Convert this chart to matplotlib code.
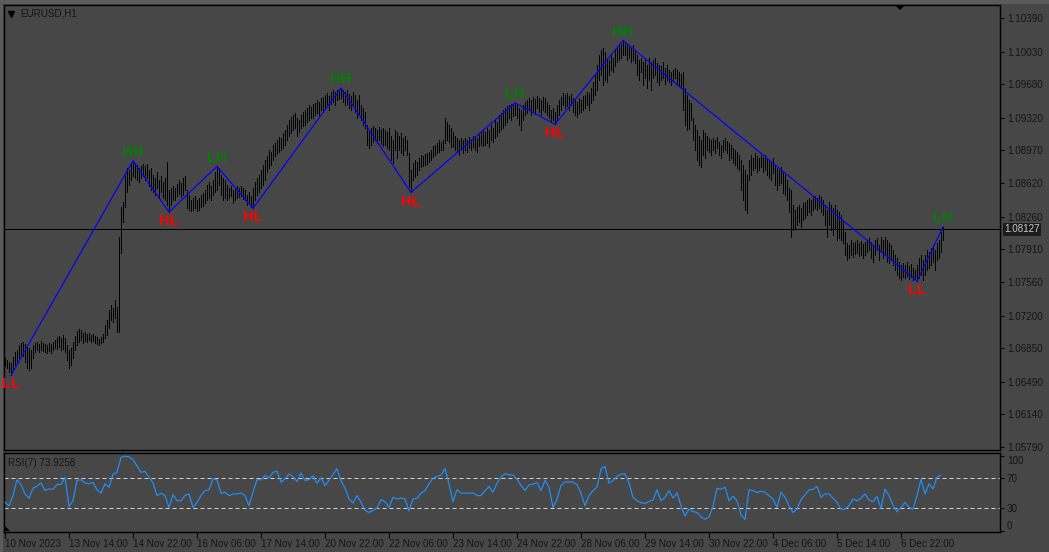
import numpy as np
import pandas as pd
import matplotlib
matplotlib.use("Agg")
import matplotlib.pyplot as plt
from matplotlib.lines import Line2D
from matplotlib.patches import Polygon, Rectangle
import matplotlib.transforms as mtransforms

# ---------------- data ----------------
symbol = "EURUSD,H1"
first_bar = "2023-11-10 06:00"

high = [
    1.0674,1.0672,1.0670,1.0669,1.0676,1.0681,1.0683,1.0688,1.0691,1.0692,
    1.0689,1.0686,1.0685,1.0683,1.0688,1.0691,1.0692,1.0689,1.0693,1.0691,
    1.0689,1.0688,1.0691,1.0689,1.0692,1.0694,1.0697,1.0698,1.0696,1.0699,
    1.0696,1.0688,1.0683,1.0685,1.0692,1.0698,1.0703,1.0706,1.0704,1.0701,
    1.0702,1.0700,1.0701,1.0699,1.0700,1.0698,1.0697,1.0695,1.0697,1.0700,
    1.0710,1.0715,1.0726,1.0731,1.0728,1.0737,1.0729,1.0804,1.0836,1.0842,
    1.0873,1.0878,1.0876,1.0882,1.0886,1.0884,1.0881,1.0878,1.0880,1.0882,
    1.0880,1.0882,1.0876,1.0878,1.0871,1.0867,1.0874,1.0865,1.0870,1.0863,
    1.0867,1.0885,1.0855,1.0857,1.0859,1.0857,1.0861,1.0865,1.0862,1.0867,
    1.0870,1.0855,1.0849,1.0844,1.0846,1.0848,1.0844,1.0846,1.0849,1.0851,
    1.0855,1.0860,1.0863,1.0859,1.0865,1.0874,1.0880,1.0878,1.0871,1.0867,
    1.0865,1.0860,1.0857,1.0859,1.0855,1.0857,1.0859,1.0857,1.0859,1.0857,
    1.0855,1.0849,1.0852,1.0848,1.0857,1.0863,1.0867,1.0871,1.0876,1.0881,
    1.0887,1.0891,1.0897,1.0895,1.0903,1.0905,1.0908,1.0911,1.0910,1.0916,
    1.0919,1.0924,1.0930,1.0933,1.0935,1.0937,1.0932,1.0930,1.0935,1.0938,
    1.0940,1.0943,1.0946,1.0944,1.0947,1.0948,1.0951,1.0949,1.0953,1.0954,
    1.0956,1.0959,1.0955,1.0960,1.0962,1.0960,1.0962,1.0963,1.0964,1.0962,
    1.0960,1.0962,1.0958,1.0955,1.0960,1.0956,1.0951,1.0956,1.0946,1.0943,
    1.0938,1.0924,1.0919,1.0921,1.0923,1.0921,1.0919,1.0922,1.0920,1.0921,
    1.0919,1.0917,1.0921,1.0913,1.0908,1.0919,1.0917,1.0913,1.0916,1.0910,
    1.0913,1.0908,1.0894,1.0876,1.0884,1.0887,1.0885,1.0889,1.0892,1.0891,
    1.0893,1.0894,1.0895,1.0897,1.0902,1.0903,1.0905,1.0908,1.0906,1.0908,
    1.0932,1.0927,1.0924,1.0921,1.0917,1.0913,1.0910,1.0908,1.0910,1.0908,
    1.0910,1.0908,1.0911,1.0909,1.0913,1.0912,1.0910,1.0915,1.0917,1.0919,
    1.0917,1.0921,1.0919,1.0924,1.0921,1.0930,1.0927,1.0935,1.0937,1.0940,
    1.0943,1.0945,1.0946,1.0947,1.0947,1.0948,1.0946,1.0943,1.0940,1.0946,
    1.0949,1.0951,1.0953,1.0951,1.0954,1.0952,1.0955,1.0953,1.0951,1.0954,
    1.0953,1.0949,1.0946,1.0940,1.0943,1.0938,1.0946,1.0951,1.0954,1.0959,
    1.0956,1.0959,1.0955,1.0958,1.0953,1.0951,1.0949,1.0953,1.0951,1.0955,
    1.0956,1.0960,1.0959,1.0964,1.0970,1.0978,1.0989,1.0999,1.1005,1.1007,
    1.1003,1.0996,1.0994,1.0999,1.0996,1.1005,1.1007,1.1010,1.1011,1.1015,
    1.1013,1.1010,1.1008,1.1007,1.1010,1.1005,1.0999,1.0994,1.0996,1.0992,
    1.0994,1.0989,1.0996,1.0992,1.0994,1.0996,1.0991,1.0989,1.0988,1.0992,
    1.0985,1.0989,1.0983,1.0981,1.0983,1.0985,1.0983,1.0981,1.0979,1.0981,
    1.0964,1.0956,1.0951,1.0948,1.0932,1.0924,1.0919,1.0913,1.0908,1.0919,
    1.0916,1.0913,1.0910,1.0908,1.0910,1.0908,1.0911,1.0906,1.0903,1.0908,
    1.0910,1.0907,1.0905,1.0903,1.0900,1.0897,1.0895,1.0892,1.0887,1.0881,
    1.0876,1.0871,1.0887,1.0892,1.0889,1.0894,1.0891,1.0889,1.0892,1.0890,
    1.0892,1.0889,1.0887,1.0885,1.0889,1.0881,1.0878,1.0876,1.0879,1.0874,
    1.0871,1.0865,1.0857,1.0855,1.0838,1.0833,1.0836,1.0838,1.0835,1.0841,
    1.0842,1.0844,1.0846,1.0844,1.0847,1.0848,1.0846,1.0849,1.0847,1.0844,
    1.0838,1.0833,1.0842,1.0838,1.0835,1.0838,1.0833,1.0831,1.0828,1.0822,
    1.0810,1.0798,1.0796,1.0801,1.0798,1.0799,1.0801,1.0798,1.0800,1.0797,
    1.0799,1.0801,1.0803,1.0799,1.0796,1.0801,1.0803,1.0796,1.0804,1.0801,
    1.0804,1.0801,1.0798,1.0796,1.0790,1.0785,1.0782,1.0777,1.0774,1.0776,
    1.0774,1.0777,1.0773,1.0775,1.0771,1.0769,1.0774,1.0782,1.0785,1.0780,
    1.0785,1.0790,1.0788,1.0792,1.0796,1.0790,1.0798,1.0801,1.0810,1.0815,
]

low = [
    1.0666,1.0664,1.0660,1.0656,1.0662,1.0667,1.0670,1.0674,1.0678,1.0677,
    1.0670,1.0664,1.0662,1.0664,1.0674,1.0681,1.0683,1.0681,1.0683,1.0682,
    1.0681,1.0680,1.0682,1.0680,1.0683,1.0685,1.0684,1.0686,1.0683,1.0684,
    1.0681,1.0672,1.0664,1.0667,1.0674,1.0683,1.0688,1.0692,1.0694,1.0691,
    1.0693,1.0692,1.0694,1.0692,1.0693,1.0691,1.0689,1.0688,1.0691,1.0692,
    1.0696,1.0699,1.0707,1.0715,1.0713,1.0717,1.0702,1.0702,1.0787,1.0820,
    1.0836,1.0852,1.0860,1.0865,1.0870,1.0867,1.0865,1.0863,1.0867,1.0870,
    1.0865,1.0867,1.0859,1.0855,1.0852,1.0849,1.0857,1.0847,1.0852,1.0846,
    1.0844,1.0838,1.0831,1.0838,1.0844,1.0844,1.0848,1.0850,1.0847,1.0849,
    1.0855,1.0835,1.0833,1.0832,1.0833,1.0835,1.0832,1.0833,1.0836,1.0837,
    1.0841,1.0844,1.0846,1.0844,1.0849,1.0852,1.0855,1.0860,1.0849,1.0844,
    1.0846,1.0844,1.0846,1.0848,1.0841,1.0844,1.0846,1.0847,1.0848,1.0845,
    1.0844,1.0838,1.0842,1.0836,1.0835,1.0844,1.0849,1.0852,1.0857,1.0860,
    1.0865,1.0874,1.0878,1.0881,1.0887,1.0891,1.0893,1.0895,1.0897,1.0900,
    1.0903,1.0908,1.0913,1.0916,1.0919,1.0921,1.0913,1.0917,1.0921,1.0923,
    1.0924,1.0927,1.0930,1.0932,1.0932,1.0935,1.0937,1.0934,1.0940,1.0938,
    1.0943,1.0945,1.0940,1.0947,1.0949,1.0946,1.0951,1.0952,1.0953,1.0949,
    1.0946,1.0947,1.0943,1.0940,1.0945,1.0938,1.0932,1.0935,1.0930,1.0924,
    1.0921,1.0903,1.0900,1.0903,1.0906,1.0908,1.0905,1.0908,1.0904,1.0902,
    1.0903,1.0900,1.0897,1.0887,1.0884,1.0897,1.0889,1.0897,1.0894,1.0892,
    1.0897,1.0892,1.0858,1.0852,1.0865,1.0868,1.0871,1.0876,1.0879,1.0880,
    1.0881,1.0882,1.0885,1.0887,1.0890,1.0892,1.0894,1.0895,1.0897,1.0897,
    1.0905,1.0908,1.0906,1.0901,1.0901,1.0897,1.0895,1.0892,1.0897,1.0894,
    1.0897,1.0895,1.0900,1.0897,1.0901,1.0898,1.0895,1.0902,1.0903,1.0902,
    1.0903,1.0905,1.0901,1.0908,1.0906,1.0910,1.0913,1.0917,1.0919,1.0921,
    1.0924,1.0927,1.0932,1.0930,1.0934,1.0935,1.0932,1.0924,1.0919,1.0930,
    1.0935,1.0937,1.0940,1.0935,1.0938,1.0936,1.0943,1.0938,1.0935,1.0940,
    1.0938,1.0935,1.0932,1.0927,1.0930,1.0925,1.0930,1.0935,1.0940,1.0946,
    1.0943,1.0945,1.0940,1.0946,1.0938,1.0935,1.0933,1.0937,1.0938,1.0940,
    1.0943,1.0946,1.0940,1.0948,1.0951,1.0956,1.0962,1.0973,1.0978,1.0967,
    1.0973,1.0970,1.0978,1.0983,1.0981,1.0988,1.0992,1.0994,1.0996,1.0999,
    1.0999,1.0994,1.0996,1.0992,1.0994,1.0991,1.0978,1.0973,1.0981,1.0967,
    1.0975,1.0964,1.0973,1.0962,1.0975,1.0978,1.0970,1.0967,1.0973,1.0975,
    1.0968,1.0973,1.0970,1.0967,1.0973,1.0975,1.0967,1.0966,1.0964,1.0940,
    1.0924,1.0919,1.0920,1.0930,1.0908,1.0897,1.0887,1.0881,1.0879,1.0892,
    1.0889,1.0897,1.0895,1.0892,1.0897,1.0894,1.0900,1.0892,1.0889,1.0895,
    1.0897,1.0894,1.0887,1.0889,1.0884,1.0881,1.0878,1.0876,1.0855,1.0844,
    1.0833,1.0830,1.0865,1.0871,1.0876,1.0878,1.0874,1.0876,1.0879,1.0874,
    1.0876,1.0871,1.0867,1.0865,1.0873,1.0860,1.0855,1.0860,1.0862,1.0851,
    1.0849,1.0844,1.0831,1.0804,1.0812,1.0814,1.0817,1.0820,1.0815,1.0822,
    1.0825,1.0828,1.0831,1.0828,1.0833,1.0835,1.0833,1.0835,1.0831,1.0828,
    1.0817,1.0804,1.0817,1.0812,1.0806,1.0814,1.0801,1.0803,1.0801,1.0798,
    1.0785,1.0780,1.0782,1.0785,1.0783,1.0786,1.0787,1.0784,1.0785,1.0782,
    1.0785,1.0788,1.0790,1.0782,1.0777,1.0785,1.0790,1.0780,1.0788,1.0782,
    1.0785,1.0777,1.0776,1.0780,1.0774,1.0769,1.0764,1.0760,1.0758,1.0761,
    1.0760,1.0762,1.0759,1.0761,1.0758,1.0759,1.0757,1.0760,1.0764,1.0758,
    1.0764,1.0769,1.0771,1.0774,1.0777,1.0769,1.0780,1.0782,1.0788,1.0801,
]

last_close = 1.08127

# zigzag pivots (bar index) and their labels
pivot_idx = [3, 64, 82, 106, 124, 168, 203, 255, 275, 309, 456, 469]
pivot_lbl = ["LL", "HH", "HL", "LH", "HL", "HH", "HL", "LH", "HL", "HH", "LL", "LH"]

# RSI(7), one value every second bar
rsi_period = 7
rsi = [
    37.7, 33.2, 46.7, 67.8, 61.5, 48.9, 43.1, 56.5, 59.2, 63.7,
    53.4, 55.6, 55.2, 61.5, 61.5, 71.3, 32.3, 39.9, 66.9, 67.8,
    63.3, 62.4, 64.2, 54.7, 50.2, 62.4, 57.9, 74.9, 78.1, 97.4,
    99.2, 98.3, 94.7, 86.2, 77.6, 79.0, 71.3, 63.7, 46.7, 49.8,
    46.7, 30.9, 47.8, 39.9, 39.9, 46.7, 48.9, 30.9, 37.7, 46.7,
    53.4, 54.3, 69.1, 67.8, 49.8, 51.1, 46.7, 48.9, 48.9, 50.2,
    46.7, 33.2, 51.1, 67.8, 67.8, 73.6, 70.4, 77.6, 79.4, 64.6,
    69.1, 75.4, 71.8, 65.5, 76.7, 66.9, 67.8, 73.1, 63.3, 70.4,
    60.1, 66.9, 74.9, 82.6, 66.0, 57.0, 42.2, 36.8, 46.7, 37.7,
    27.3, 24.2, 26.9, 30.0, 41.3, 38.6, 30.9, 44.4, 42.2, 43.5,
    42.2, 26.4, 42.2, 43.1, 49.8, 53.4, 62.4, 69.6, 72.2, 74.0,
    82.6, 62.4, 38.6, 54.7, 49.8, 50.2, 49.8, 50.2, 46.7, 46.7,
    53.4, 58.8, 51.1, 63.3, 71.3, 75.8, 74.5, 74.0, 68.7, 60.1,
    53.4, 61.0, 61.9, 64.2, 53.4, 66.9, 57.9, 30.9, 41.7, 60.1,
    64.6, 65.1, 64.6, 61.5, 49.8, 33.2, 46.7, 53.4, 57.9, 82.1,
    85.7, 63.3, 66.9, 72.2, 74.9, 75.8, 63.7, 44.4, 39.9, 37.2,
    36.3, 39.0, 40.8, 54.3, 39.9, 44.4, 53.4, 43.5, 50.2, 33.2,
    19.7, 28.7, 25.5, 24.2, 18.4, 15.2, 18.4, 31.8, 56.5, 55.2,
    57.9, 39.9, 45.8, 39.9, 21.1, 15.2, 54.3, 53.4, 50.7, 52.5,
    51.1, 46.7, 42.2, 30.9, 51.1, 44.4, 33.2, 24.2, 28.7, 41.3,
    47.8, 54.3, 55.2, 58.8, 44.4, 48.9, 48.9, 43.5, 37.7, 28.7,
    28.7, 33.2, 42.2, 39.9, 43.1, 48.9, 40.8, 38.6, 45.8, 29.6,
    55.6, 46.7, 34.1, 25.1, 30.9, 37.7, 30.9, 28.7, 46.7, 68.2,
    48.9, 62.4, 55.6, 71.3, 73.9258,
]
rsi_levels = [70, 30]
rsi_scale_labels = [100, 70, 30, 0]

price_ticks = [1.10390, 1.10030, 1.09680, 1.09320, 1.08970, 1.08620, 1.08260,
               1.07910, 1.07560, 1.07200, 1.06850, 1.06490, 1.06140, 1.05790]
date_tick_idx = [0, 32, 64, 96, 128, 160, 192, 224, 256, 288, 320, 352, 384, 416, 448]

# ---------------- style ----------------
plt.rcParams["font.family"] = ["Liberation Sans", "DejaVu Sans"]
BG = "#474747"
TXT = "#141414"
FS = 7.1
PX = 0.72  # one pixel in points
W, H = 1049, 552

def rect(l, t, r, b):
    return [l / W, 1 - b / H, (r - l) / W, (b - t) / H]

fig = plt.figure(figsize=(W / 100, H / 100), dpi=100)
fig.patch.set_facecolor(BG)

# light frame strips (terminal window border)
fig.add_artist(Rectangle((0, 1 - 4 / H), 1, 4 / H, transform=fig.transFigure,
                         facecolor="#5b5b5b", edgecolor="none", zorder=0))
fig.add_artist(Rectangle((0, 0), 3 / W, 1, transform=fig.transFigure,
                         facecolor="#5b5b5b", edgecolor="none", zorder=0))

ax = fig.add_axes(rect(4, 5, 1000, 450))
ax2 = fig.add_axes(rect(4, 452.8, 1000, 531.8), sharex=ax)

n = min(len(high), len(low))
x = np.arange(n)
hi = np.array(high[:n])
lo = np.array(low[:n])

for a in (ax, ax2):
    a.set_facecolor(BG)
    for s in a.spines.values():
        s.set_color("black")
        s.set_linewidth(1.0)

# price bars (1 px wide)
ax.vlines(x, lo, hi, colors="black", linewidth=PX, antialiased=False, zorder=2)

# last price line
ax.axhline(last_close, color="black", linewidth=PX, antialiased=False, zorder=1)

# zigzag
pv_y = [hi[i] if lbl.endswith("H") else lo[i] for i, lbl in zip(pivot_idx, pivot_lbl)]
ax.plot(pivot_idx, pv_y, color="#0000ff", linewidth=0.85, zorder=3)
for i, lbl, yv in zip(pivot_idx, pivot_lbl, pv_y):
    if lbl.endswith("H"):
        ax.annotate(lbl, (i, yv), xytext=(0, 3.2), textcoords="offset points",
                    ha="center", va="baseline", color="#008000", fontsize=10.5,
                    fontweight="bold", zorder=4)
    else:
        ax.annotate(lbl, (i, yv), xytext=(0, -1.5), textcoords="offset points",
                    ha="center", va="top", color="#ff0000", fontsize=10.5,
                    fontweight="bold", zorder=4)

ax.set_xlim(-0.5, 497.5)
ax.set_ylim(1.05759, 1.10529)
ax.yaxis.tick_right()
ax.set_yticks(price_ticks)
ax.set_yticklabels([f"{v:.5f}" for v in price_ticks])
ax.tick_params(axis="y", direction="out", length=3, width=0.8, colors="black",
               labelcolor=TXT, labelsize=FS, pad=2)
ax.tick_params(axis="x", bottom=False, labelbottom=False)

# last price box
tr = mtransforms.blended_transform_factory(ax.transAxes, ax.transData)
ax.text(1.004, last_close, f"{last_close:.5f}", transform=tr, ha="left", va="center",
        fontsize=FS, color="#c8c8c8", zorder=5, clip_on=False,
        bbox=dict(boxstyle="square,pad=0.15", fc="#1c1c1c", ec="none"))

# RSI panel
rsi_x = np.arange(len(rsi)) * 2
ax2.plot(rsi_x, rsi, color="#1e90ff", linewidth=0.85, zorder=3)
for lv in rsi_levels:
    ax2.axhline(lv, color="#d0d0d0", linewidth=PX, dashes=(4, 3), zorder=2)
ax2.set_ylim(-1.5, 103.7)
ax2.yaxis.tick_right()
ax2.set_yticks(rsi_scale_labels)
ax2.set_yticklabels([str(v) for v in rsi_scale_labels])
ax2.tick_params(axis="y", direction="out", length=3, width=0.8, colors="black",
                labelcolor=TXT, labelsize=FS, pad=2)
ylabs = ax2.get_yticklabels()
ylabs[0].set_va("top")
ylabs[-1].set_va("bottom")

ax2.text(0.004, 0.94, f"RSI({rsi_period}) {rsi[-1]:.4f}", transform=ax2.transAxes,
         ha="left", va="top", fontsize=FS, color=TXT)

# date axis
times = pd.date_range(first_bar, periods=700, freq="h")
times = times[times.dayofweek < 5][:n]
labels = []
for k, i in enumerate(date_tick_idx):
    t = times[i]
    if k == 0:
        labels.append(f"{t.day} {t:%b %Y}")
    else:
        labels.append(f"{t.day} {t:%b %H:%M}")
ax2.set_xticks(date_tick_idx)
ax2.set_xticklabels(labels)
ax2.tick_params(axis="x", direction="out", length=4, width=0.8, colors="black",
                labelcolor=TXT, labelsize=FS, pad=1.5)
for tl in ax2.get_xticklabels():
    tl.set_ha("left")

# header
fig.text(20 / W, 1 - 13.5 / H, symbol, ha="left", va="center", fontsize=FS, color=TXT)
fig.add_artist(Line2D([11 / W], [1 - 13.5 / H], marker="v", markersize=4.5,
                      color="black", transform=fig.transFigure))
# chart shift marker
fig.add_artist(Polygon([[895 / W, 1 - 5 / H], [905 / W, 1 - 5 / H], [900 / W, 1 - 10 / H]],
                       closed=True, transform=fig.transFigure, facecolor="black",
                       edgecolor="none", zorder=10))
# indicator window marker
fig.add_artist(Polygon([[5 / W, 1 - 526 / H], [5 / W, 1 - 531 / H], [10 / W, 1 - 531 / H]],
                       closed=True, transform=fig.transFigure, facecolor="black",
                       edgecolor="none", zorder=10))

fig.savefig("out.png", dpi=100, facecolor=BG)
